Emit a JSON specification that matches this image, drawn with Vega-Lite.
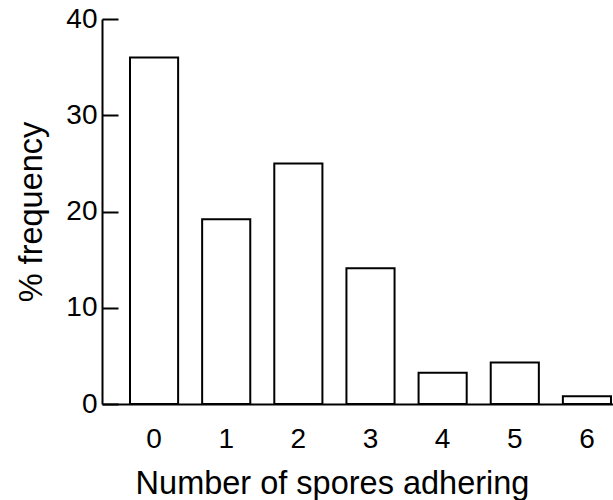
{
  "$schema": "https://vega.github.io/schema/vega-lite/v6.json",
  "width": 511,
  "height": 385,
  "autosize": "none",
  "padding": {"left": 102, "top": 19, "right": 0, "bottom": 96},
  "background": "white",
  "config": {
    "view": {"stroke": null},
    "font": "Liberation Sans",
    "axis": {"grid": false, "domainColor": "black", "domainWidth": 2, "labelColor": "black", "titleColor": "black", "tickColor": "black", "labelFont": "Liberation Sans", "titleFont": "Liberation Sans", "titleFontWeight": "normal"}
  },
  "data": {
    "values": [
      {"spores": "0", "freq": 36.0},
      {"spores": "1", "freq": 19.2},
      {"spores": "2", "freq": 25.0},
      {"spores": "3", "freq": 14.1},
      {"spores": "4", "freq": 3.25},
      {"spores": "5", "freq": 4.3},
      {"spores": "6", "freq": 0.8}
    ]
  },
  "mark": {"type": "bar", "fill": "white", "stroke": "black", "strokeWidth": 2},
  "encoding": {
    "x": {
      "field": "spores", "type": "ordinal", "sort": null,
      "scale": {"paddingInner": 0.333, "paddingOuter": 0.208, "align": 0.933},
      "axis": {"title": "Number of spores adhering", "labelAngle": 0, "ticks": false, "labelFontSize": 28, "labelPadding": 21, "titleFontSize": 32.5, "titleX": 230, "titleY": 89, "titleBaseline": "alphabetic", "titleAlign": "center"}
    },
    "y": {
      "field": "freq", "type": "quantitative",
      "scale": {"domain": [0, 40]},
      "axis": {"title": "% frequency", "values": [0, 10, 20, 30, 40], "tickSize": -16, "tickWidth": 2, "labelPadding": 21, "labelFontSize": 28, "titleFontSize": 32.5, "titlePadding": 17}
    }
  }
}
